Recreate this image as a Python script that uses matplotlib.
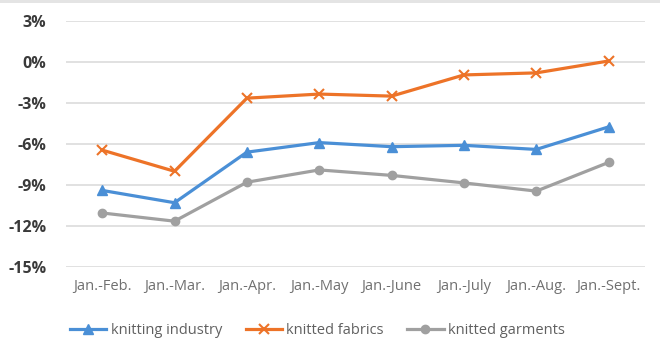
import matplotlib.pyplot as plt
import matplotlib.patches as mpatches

plt.rcParams['font.family'] = ['Open Sans', 'DejaVu Sans']

periods = ['Jan.-Feb.', 'Jan.-Mar.', 'Jan.-Apr.', 'Jan.-May', 'Jan.-June',
           'Jan.-July', 'Jan.-Aug.', 'Jan.-Sept.']
knitting_industry = [-9.4, -10.3, -6.6, -5.9, -6.2, -6.1, -6.4, -4.75]
knitted_fabrics = [-6.45, -8.0, -2.65, -2.35, -2.5, -0.95, -0.8, 0.07]
knitted_garments = [-11.05, -11.65, -8.8, -7.9, -8.3, -8.85, -9.45, -7.35]
yticks = [3, 0, -3, -6, -9, -12, -15]

fig = plt.figure(figsize=(6.6, 3.55), dpi=100)
fig.patch.set_facecolor('white')
# thin grey border strip at the top of the image
fig.patches.append(mpatches.Rectangle((0, 0.992), 1, 0.008, transform=fig.transFigure,
                                      facecolor='#e4e4e4', edgecolor='none'))

ax = fig.add_axes([0.1, 0.248, 0.877, 0.693])
x = range(len(periods))

ax.plot(x, knitting_industry, color='#4a8fd6', lw=2.3, marker='^', ms=6.5,
        label='knitting industry', zorder=4)
ax.plot(x, knitted_fabrics, color='#ed7328', lw=2.3, marker='x', ms=7, mew=1.5,
        label='knitted fabrics', zorder=4)
ax.plot(x, knitted_garments, color='#a0a0a0', lw=2.3, marker='o', ms=6,
        label='knitted garments', zorder=3)

ax.set_xlim(-0.5, 7.5)
ax.set_ylim(-15, 3)
ax.set_yticks(yticks)
ax.set_yticklabels([f'{v}%' for v in yticks], fontsize=11.5, color='#3a3a3a', fontweight='bold')
ax.set_xticks(list(x))
ax.set_xticklabels(periods, fontsize=10.5, color='#707070')
ax.tick_params(length=0)
ax.tick_params(axis='x', pad=9)
ax.tick_params(axis='y', pad=14)
ax.grid(axis='y', color='#dedede', lw=1.3)
ax.set_axisbelow(True)
for s in ax.spines.values():
    s.set_visible(False)

fig.legend(loc='center left', bbox_to_anchor=(0.106, 0.068), ncol=3, frameon=False,
           fontsize=10.5, labelcolor='#606060', handlelength=2.5, columnspacing=1.6,
           handletextpad=0.3, borderaxespad=0, borderpad=0)

fig.savefig('out.png', dpi=100)
